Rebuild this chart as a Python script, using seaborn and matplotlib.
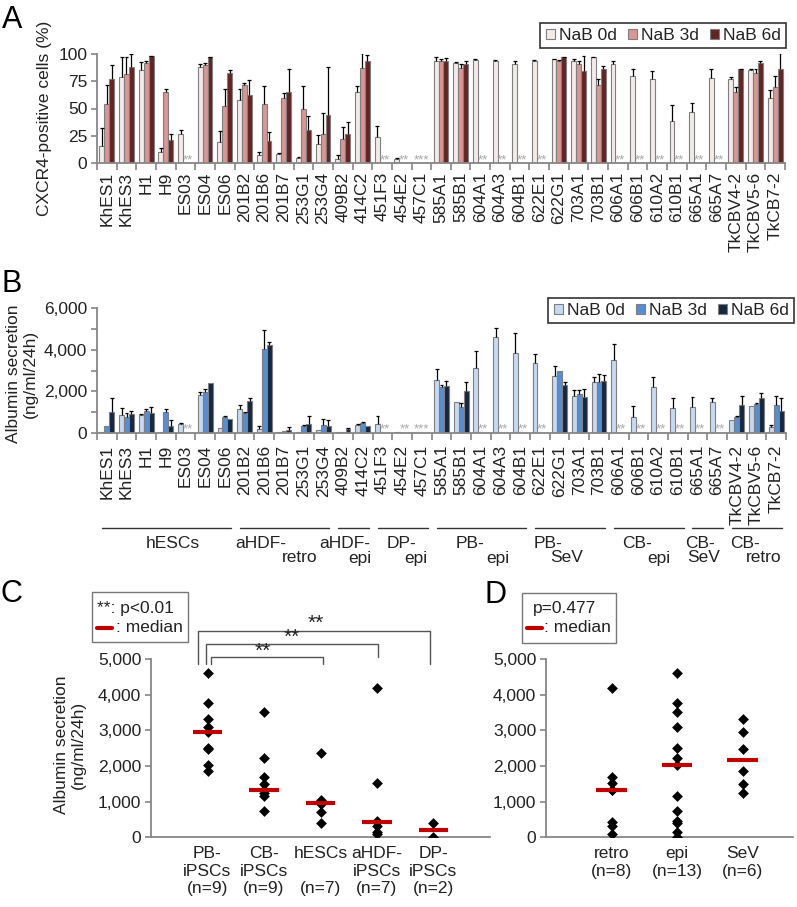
import numpy as np
import pandas as pd
import matplotlib
matplotlib.use('Agg')
import matplotlib.pyplot as plt
import seaborn as sns
from matplotlib.lines import Line2D
from matplotlib.patches import Rectangle
from matplotlib.transforms import blended_transform_factory as btf

nan = np.nan

# ---------------- data ----------------
lines = ['KhES1', 'KhES3', 'H1', 'H9', 'ES03', 'ES04', 'ES06', '201B2', '201B6', '201B7',
         '253G1', '253G4', '409B2', '414C2', '451F3', '454E2', '457C1', '585A1', '585B1',
         '604A1', '604A3', '604B1', '622E1', '622G1', '703A1', '703B1', '606A1', '606B1',
         '610A2', '610B1', '665A1', '665A7', 'TkCBV4-2', 'TkCBV5-6', 'TkCB7-2']
conds = ['NaB 0d', 'NaB 3d', 'NaB 6d']
missing_mark = ['', '', '', '', '**', '', '', '', '', '', '', '', '', '', '**', '**', '***',
                '', '', '**', '**', '**', '**', '', '', '', '**', '**', '**', '**', '**', '**',
                '', '', '']

cxcr4_0d = [16, 79, 85, 10, 27, 88, 19, 58, 7, 8, 5, 17, 4, 65, 24, 4, nan, 94, 92, 94.5, 94,
            91, 94, 95, 94, 97, 91, 80, 77, 38.5, 47, 78, 77, 85, 60]
cxcr4_0d_err = [16, 18, 8, 4, 3, 3, 10, 10, 3, 1, 0.5, 9, 3, 6, 10, 1, nan, 3, 1, 0.5, 0.5,
                3, 0.5, 0.5, 1.5, 0.5, 3, 6, 7, 14.5, 8, 8, 2, 1, 7]
cxcr4_3d = [54, 82, 92, 65, nan, 90, 52, 72, 54, 60, 50, 27, 22, 87, nan, nan, nan, 94, 87,
            nan, nan, nan, nan, 94, 91, 72, nan, nan, nan, nan, nan, nan, 65, 83, 70]
cxcr4_3d_err = [18, 15, 2, 3, nan, 2, 16, 1, 17, 4, 21, 19, 11, 14, nan, nan, nan, 1, 4,
                nan, nan, nan, nan, 0.5, 3, 5, nan, nan, nan, nan, nan, nan, 5, 3, 10]
cxcr4_6d = [77, 88, 98, 21, nan, 97, 83, 62, 20, 65, 30, 44, 27, 94, nan, nan, nan, 94, 91,
            nan, nan, nan, nan, 97, 84, 86, nan, nan, nan, nan, nan, nan, 86, 92, 86]
cxcr4_6d_err = [13, 12, 0.5, 6, nan, 0.5, 2, 14, 8, 21, 13, 44, 11, 5, nan, nan, nan, 2, 3,
                nan, nan, nan, nan, 0.5, 14, 3, nan, nan, nan, nan, nan, nan, 0.5, 2, 15]

alb_0d = [30, 850, 850, 40, 420, 1830, 220, 1130, 180, 40, 20, 110, 20, 350, 420, 30, nan,
          2530, 1500, 3120, 4630, 3830, 3350, 2740, 1770, 2460, 3510, 740, 2220, 1180, 1260,
          1460, 610, 1300, 290]
alb_0d_err = [0, 350, 30, 0, 30, 130, 0, 200, 160, 0, 0, 0, 0, 50, 380, 0, nan, 550, 0, 820,
              420, 980, 430, 480, 290, 240, 760, 560, 450, 510, 450, 210, 0, 0, 100]
alb_3d = [340, 770, 1050, 980, nan, 1950, 770, 970, 4020, 100, 320, 350, 30, 480, nan, nan,
          nan, 2190, 1260, nan, nan, nan, nan, 2960, 1850, 2460, nan, nan, nan, nan, nan, nan,
          770, 1370, 1340]
alb_3d_err = [0, 160, 100, 160, nan, 180, 30, 50, 930, 0, 30, 310, 0, 50, nan, nan, nan, 110,
              160, nan, nan, nan, nan, 0, 210, 370, nan, nan, nan, nan, nan, nan, 50, 50, 450]
alb_6d = [1000, 920, 970, 340, nan, 2400, 660, 1530, 4220, 110, 400, 340, 160, 320, nan, nan,
          nan, 2240, 2010, nan, nan, nan, nan, 2290, 1740, 2510, nan, nan, nan, nan, nan, nan,
          1340, 1670, 1030]
alb_6d_err = [670, 140, 290, 270, nan, 0, 0, 160, 160, 160, 400, 270, 80, 0, nan, nan, nan,
              270, 450, nan, nan, nan, nan, 150, 370, 270, nan, nan, nan, nan, nan, nan, 430,
              230, 630]

group_line1 = ['hESCs', 'aHDF-', 'aHDF-', 'DP-', 'PB-', 'PB-', 'CB-', 'CB-', 'CB-']
group_line2 = ['', 'retro', 'epi', 'epi', 'epi', 'SeV', 'epi', 'SeV', 'retro']
group_sizes = [7, 5, 2, 3, 5, 4, 4, 2, 3]

c_groups = ['PB-\niPSCs\n(n=9)', 'CB-\niPSCs\n(n=9)', 'hESCs\n\n(n=7)',
            'aHDF-\niPSCs\n(n=7)', 'DP-\niPSCs\n(n=2)']
c_pb = [4600, 3780, 3310, 3100, 2960, 2510, 2490, 2030, 1870]
c_cb = [3500, 2220, 1680, 1500, 1330, 1330, 1240, 1150, 740]
c_hes = [2350, 1050, 1000, 950, 920, 700, 410]
c_ahdf = [4200, 1520, 470, 420, 330, 160, 100]
c_dp = [410, 10]

d_groups = ['retro\n(n=8)', 'epi\n(n=13)', 'SeV\n(n=6)']
d_retro = [4200, 1680, 1520, 1330, 1330, 420, 330, 100]
d_epi = [4600, 3780, 3500, 3100, 2510, 2220, 2030, 1150, 740, 470, 410, 160, 10]
d_sev = [3310, 2960, 2490, 1870, 1500, 1240]

# ---------------- style ----------------
sns.set_style('ticks')
plt.rcParams['font.family'] = ['Liberation Sans', 'DejaVu Sans']
TXT = '#222222'
SPN = '#868686'
FS = 12.5
W, H = 797, 907
fig = plt.figure(figsize=(W / 100, H / 100), dpi=100)


def ax_px(l, t, r, b):
    return fig.add_axes([l / W, 1 - b / H, (r - l) / W, (b - t) / H])


def fx(x):
    return x / W


def fy(y):
    return 1 - y / H


def style_axes(ax):
    sns.despine(ax=ax)
    for s in ['left', 'bottom']:
        ax.spines[s].set_color(SPN)
        ax.spines[s].set_linewidth(1.3)
    ax.tick_params(which='both', color=SPN, width=1.2, labelcolor=TXT, labelsize=FS)


def bar_panel(ax, vals, errs, palette, missing_color):
    df = pd.concat([pd.DataFrame({'line': lines, 'cond': c, 'value': v})
                    for c, v in zip(conds, vals)], ignore_index=True)
    sns.barplot(data=df, x='line', y='value', hue='cond', order=lines, hue_order=conds,
                palette=palette, saturation=1, width=0.75, errorbar=None,
                edgecolor='#7f7f7f', linewidth=0.8, ax=ax)
    for ci, cont in enumerate(ax.containers):
        for p in cont:
            h = p.get_height()
            if not np.isfinite(h):
                continue
            xc = p.get_x() + p.get_width() / 2
            i = int(round(xc))
            e = errs[ci][i]
            if np.isfinite(e) and e > 0:
                ax.vlines(xc, h, h + e, color='black', lw=0.9, zorder=4)
                ax.hlines(h + e, xc - 0.1, xc + 0.1, color='black', lw=0.9, zorder=4)
    for i, m in enumerate(missing_mark):
        if m:
            ax.text(i + (0.12 if m == '**' else 0.0), 0, m, ha='center', va='baseline',
                    fontsize=9.5, color=missing_color, transform=ax.transData)
    n = len(lines)
    ax.set_xlim(-0.5, n - 0.5)
    ax.set_xticks(np.arange(-0.5, n, 1), minor=True)
    ax.set_xlabel('')
    ax.set_ylabel('')
    style_axes(ax)
    ax.tick_params(axis='x', which='major', length=0, rotation=90)
    ax.tick_params(axis='x', which='minor', length=5, direction='out')
    ax.tick_params(axis='y', which='both', length=4, pad=3, direction='out')
    for t in ax.get_xticklabels():
        t.set_fontsize(FS)
    handles, labels = ax.get_legend_handles_labels()
    return handles, labels


def make_legend(ax, handles, labels, right, top):
    leg = ax.legend(handles, labels, ncol=3, loc='upper right',
                    bbox_to_anchor=(fx(right), fy(top)), bbox_transform=fig.transFigure,
                    frameon=True, fancybox=False, edgecolor='black', fontsize=FS,
                    handlelength=0.55, handleheight=0.55, handletextpad=0.2,
                    columnspacing=0.65, borderpad=0.3, borderaxespad=0)
    leg.get_frame().set_linewidth(1.2)
    for t in leg.get_texts():
        t.set_color(TXT)
    return leg


# ---------------- Panel A ----------------
axA = ax_px(97, 54, 785, 163)
hA, lA = bar_panel(axA, [cxcr4_0d, cxcr4_3d, cxcr4_6d],
                   [cxcr4_0d_err, cxcr4_3d_err, cxcr4_6d_err],
                   ['#F4EAEA', '#D99694', '#632523'], '#a8a8a8')
axA.set_ylim(0, 100)
axA.set_yticks([0, 25, 50, 75, 100])
axA.tick_params(axis='x', which='major', pad=6.5)
make_legend(axA, hA, lA, 786, 23)
fig.text(fx(45), fy(118), 'CXCR4-positive cells (%)', rotation=90, ha='center',
         va='center', fontsize=FS, color=TXT)

# ---------------- Panel B ----------------
axB = ax_px(97, 308.3, 786, 432.7)
hB, lB = bar_panel(axB, [alb_0d, alb_3d, alb_6d], [alb_0d_err, alb_3d_err, alb_6d_err],
                   ['#C6D9F1', '#558ED5', '#17273F'], '#a8a8a8')
axB.set_ylim(0, 6000)
yt = [0, 2000, 4000, 6000]
axB.set_yticks(yt)
axB.set_yticklabels([f'{v:,}' for v in yt])
axB.set_yticks([1000, 3000, 5000], minor=True)
axB.tick_params(axis='x', which='major', pad=8.5)
make_legend(axB, hB, lB, 794, 298)
fig.text(fx(22), fy(374), 'Albumin secretion\n(ng/ml/24h)', rotation=90, ha='center',
         va='center', fontsize=FS, color=TXT, linespacing=1.15)

# group annotations under B
tr = btf(axB.transData, fig.transFigure)
line1_frac = [0.55, 0.23, 0.21, 0.47, 0.37, 0.19, 0.33, 0.25, 0.26]
line2_frac = [0.0, 0.67, 0.70, 0.77, 0.68, 0.45, 0.64, 0.38, 0.64]
start = 0
for g1, g2, sz, f1, f2 in zip(group_line1, group_line2, group_sizes, line1_frac, line2_frac):
    x0 = start - 0.5 + 0.25
    x1 = start + sz - 0.5 - 0.2
    axB.add_line(Line2D([x0, x1], [fy(528), fy(528)], transform=tr, color='#333333',
                        lw=1.0, clip_on=False))
    axB.text(x0 + f1 * (x1 - x0), fy(543), g1, transform=tr, ha='center', va='center',
             fontsize=FS, color=TXT, clip_on=False)
    if g2:
        axB.text(x0 + f2 * (x1 - x0), fy(558), g2, transform=tr, ha='center', va='center',
                 fontsize=FS, color=TXT, clip_on=False)
    start += sz

# ---------------- Panel C ----------------
RED = '#C00000'


def dot_panel(ax, names, groups, half):
    df = pd.concat([pd.DataFrame({'grp': n, 'val': v}) for n, v in zip(names, groups)],
                   ignore_index=True)
    sns.stripplot(data=df, x='grp', y='val', order=names, jitter=False, marker='D',
                  color='black', size=5.5, ax=ax, zorder=3)
    for i, v in enumerate(groups):
        ax.hlines(np.median(v), i - half, i + half, color=RED, lw=3, zorder=4)
    ax.set_ylim(0, 5000)
    yt = [0, 1000, 2000, 3000, 4000, 5000]
    ax.set_yticks(yt)
    ax.set_yticklabels([f'{v:,}' for v in yt])
    ax.set_xlabel('')
    ax.set_ylabel('')
    style_axes(ax)
    ax.tick_params(axis='x', length=0, pad=6.5)
    ax.tick_params(axis='y', length=4, pad=3, direction='out')


axC = ax_px(151, 659, 490, 837.3)
dot_panel(axC, c_groups, [c_pb, c_cb, c_hes, c_ahdf, c_dp], 0.26)
axC.set_xlim(-1.0, 5.0)
fig.text(fx(70), fy(745), 'Albumin secretion\n(ng/ml/24h)', rotation=90, ha='center',
         va='center', fontsize=FS, color=TXT, linespacing=1.15)

# significance brackets (data x, figure y)
trC = btf(axC.transData, fig.transFigure)
brackets = [(-0.16, 3.94, 631, 664, 664), (-0.035, 3.02, 644, 664, 657),
            (0.07, 2.05, 657, 664, 664)]
star_x = [1.92, 1.49, 0.97]
star_y = [623, 637, 651]
for (xl, xr, yt_, ylb, yrb), sx, sy in zip(brackets, star_x, star_y):
    axC.add_line(Line2D([xl, xl, xr, xr], [fy(ylb), fy(yt_), fy(yt_), fy(yrb)],
                        transform=trC, color='#555555', lw=1.0, clip_on=False))
    axC.text(sx, fy(sy), '**', transform=trC, ha='center', va='center', fontsize=15,
             color=TXT, clip_on=False)

# legend box C
fig.patches.append(Rectangle((fx(92), fy(642)), fx(188) - fx(92), fy(592) - fy(642),
                             transform=fig.transFigure, fill=False, edgecolor='#777777',
                             lw=1.0))
fig.text(fx(97), fy(608), '**: p<0.01', ha='left', va='center', fontsize=FS, color=TXT)
fig.lines.append(Line2D([fx(97), fx(112)], [fy(628), fy(628)], transform=fig.transFigure,
                        color=RED, lw=3))
fig.text(fx(116), fy(628), ': median', ha='left', va='center', fontsize=FS, color=TXT)

# ---------------- Panel D ----------------
axD = ax_px(546, 659, 793, 837.3)
dot_panel(axD, d_groups, [d_retro, d_epi, d_sev], 0.23)
axD.set_xlim(-1.0, 2.77)

fig.patches.append(Rectangle((fx(522), fy(643)), fx(616) - fx(522), fy(593) - fy(643),
                             transform=fig.transFigure, fill=False, edgecolor='#777777',
                             lw=1.0))
fig.text(fx(533), fy(609), 'p=0.477', ha='left', va='center', fontsize=FS, color=TXT)
fig.lines.append(Line2D([fx(527), fx(542)], [fy(628), fy(628)], transform=fig.transFigure,
                        color=RED, lw=3))
fig.text(fx(544), fy(628), ': median', ha='left', va='center', fontsize=FS, color=TXT)

# panel letters
for letter, x, y in [('A', 2, 28), ('B', 2, 292), ('C', 1, 602), ('D', 485, 603)]:
    fig.text(fx(x), fy(y), letter, ha='left', va='baseline', fontsize=22, color='black')

fig.savefig('out.png', dpi=100)
